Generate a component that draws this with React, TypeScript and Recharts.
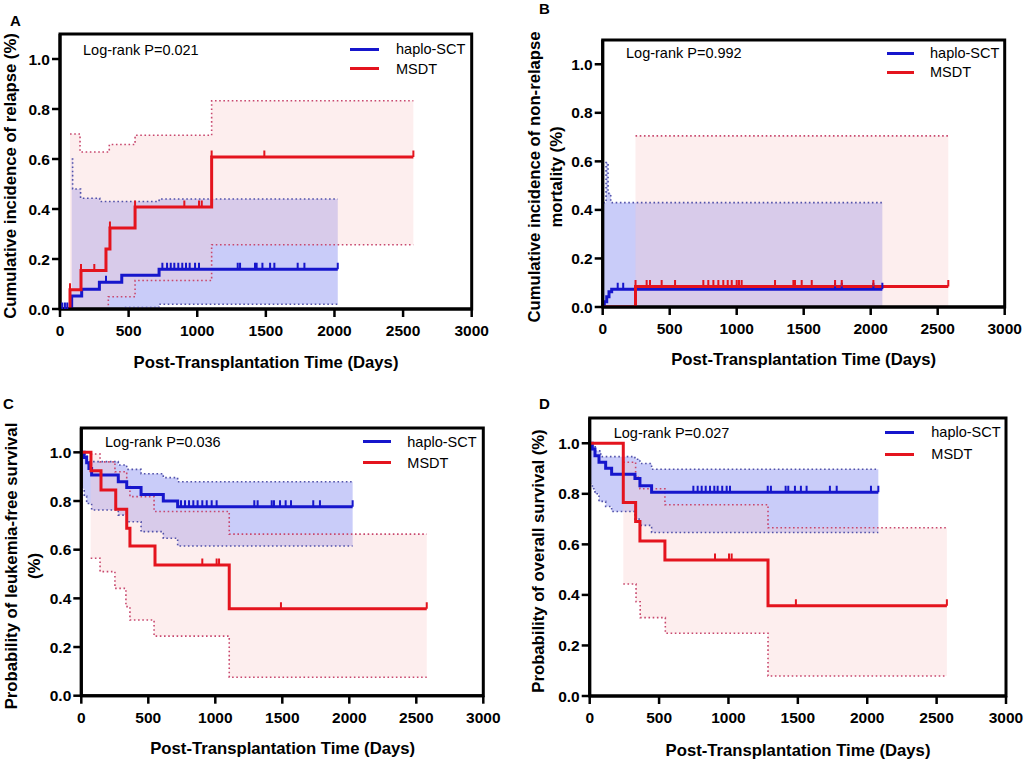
import React from 'react';
import { ComposedChart, Line, Area, XAxis, YAxis, ReferenceArea } from 'recharts';

type P = [number, number];

// ---------- shared labels / ticks ----------
const X_TICKS = [0, 500, 1000, 1500, 2000, 2500, 3000];
const Y_TICKS = [0, 0.2, 0.4, 0.6, 0.8, 1.0];
const SERIES_NAMES = ['haplo-SCT', 'MSDT'];
const PANEL_LETTERS = ['A', 'B', 'C', 'D'];
const LOG_RANK = ['Log-rank P=0.021', 'Log-rank P=0.992', 'Log-rank P=0.036', 'Log-rank P=0.027'];
const X_TITLE = 'Post-Transplantation Time (Days)';
const Y_TITLES = [
  ['Cumulative incidence of relapse (%)'],
  ['Cumulative incidence of non-relapse', 'mortality (%)'],
  ['Probability of leukemia-free survival', '(%)'],
  ['Probability of overall survival (%)'],
];

// ---------- Panel A: relapse ----------
const A_HAPLO_CURVE: P[] = [[0, 0], [85, 0.052], [158, 0.079], [287, 0.107], [450, 0.135], [722, 0.159], [2024, 0.159]];
const A_HAPLO_UPPER: P[] = [[85, 0.6], [92, 0.48], [150, 0.443], [290, 0.43], [722, 0.44], [2024, 0.44]];
const A_HAPLO_LOWER: P[] = [[85, 0], [461, 0.006], [722, 0.019], [2024, 0.019]];
const A_HAPLO_CENSOR = [17, 36, 53, 335, 746, 780, 807, 833, 862, 891, 918, 945, 984, 1013, 1295, 1312, 1421, 1433, 1475, 1531, 1562, 1732, 1781, 2024];
const A_MSDT_CURVE: P[] = [[0, 0], [73, 0.077], [153, 0.154], [335, 0.24], [364, 0.324], [547, 0.408], [1105, 0.608], [2575, 0.608]];
const A_MSDT_UPPER: P[] = [[73, 0.7], [146, 0.628], [359, 0.658], [547, 0.695], [1105, 0.833], [2575, 0.833]];
const A_MSDT_LOWER: P[] = [[73, 0], [352, 0.049], [547, 0.114], [1105, 0.257], [2575, 0.257]];
const A_MSDT_CENSOR = [73, 153, 250, 364, 547, 906, 1013, 1033, 1105, 1489, 2575];

// ---------- Panel B: non-relapse mortality ----------
const B_HAPLO_CURVE: P[] = [[0, 0], [12, 0.022], [30, 0.042], [47, 0.063], [67, 0.073], [2087, 0.073]];
const B_HAPLO_UPPER: P[] = [[5, 0.43], [25, 0.595], [40, 0.468], [60, 0.43], [2087, 0.43]];
const B_HAPLO_LOWER: P[] = [[5, 0], [2087, 0]];
const B_HAPLO_CENSOR = [112, 153, 1734, 1784, 2020, 2087];
const B_MSDT_CURVE: P[] = [[0, 0], [245, 0.084], [2579, 0.084]];
const B_MSDT_UPPER: P[] = [[245, 0.705], [2579, 0.705]];
const B_MSDT_LOWER: P[] = [[245, 0], [2579, 0]];
const B_MSDT_CENSOR = [245, 328, 353, 440, 540, 751, 788, 826, 863, 900, 933, 963, 1000, 1017, 1037, 1286, 1423, 1435, 1485, 1560, 1734, 1784, 2020, 2579];

// ---------- Panel C: leukemia-free survival ----------
const C_HAPLO_CURVE: P[] = [[0, 1], [22, 0.979], [40, 0.957], [57, 0.934], [77, 0.907], [276, 0.879], [339, 0.855], [446, 0.827], [612, 0.8], [719, 0.776], [2025, 0.776]];
const C_HAPLO_UPPER: P[] = [[0, 1.0], [22, 0.985], [45, 0.962], [276, 0.948], [339, 0.93], [446, 0.912], [612, 0.896], [719, 0.879], [2025, 0.879]];
const C_HAPLO_LOWER: P[] = [[0, 0.85], [22, 0.82], [40, 0.79], [77, 0.763], [276, 0.742], [339, 0.715], [446, 0.674], [612, 0.647], [719, 0.615], [2025, 0.615]];
const C_HAPLO_CENSOR = [744, 774, 804, 836, 868, 903, 936, 973, 1010, 1291, 1316, 1421, 1438, 1483, 1525, 1565, 1731, 1781, 2025];
const C_MSDT_CURVE: P[] = [[0, 1], [72, 0.924], [147, 0.845], [257, 0.766], [339, 0.688], [363, 0.615], [550, 0.537], [1104, 0.357], [2578, 0.357]];
const C_MSDT_UPPER: P[] = [[70, 0.993], [140, 0.961], [251, 0.92], [339, 0.859], [363, 0.818], [543, 0.757], [1104, 0.664], [2578, 0.664]];
const C_MSDT_LOWER: P[] = [[70, 0.565], [140, 0.51], [251, 0.441], [333, 0.366], [363, 0.311], [543, 0.245], [1104, 0.076], [2578, 0.076]];
const C_MSDT_CENSOR = [903, 1010, 1028, 1490, 2578];

// ---------- Panel D: overall survival ----------
const D_HAPLO_CURVE: P[] = [[0, 1], [19, 0.977], [38, 0.951], [67, 0.925], [115, 0.901], [158, 0.877], [326, 0.861], [362, 0.832], [446, 0.806], [2080, 0.806]];
const D_HAPLO_UPPER: P[] = [[0, 1.0], [19, 0.99], [40, 0.97], [80, 0.947], [326, 0.937], [362, 0.92], [446, 0.897], [2080, 0.897]];
const D_HAPLO_LOWER: P[] = [[0, 0.84], [19, 0.82], [38, 0.8], [67, 0.77], [115, 0.75], [158, 0.73], [326, 0.7], [362, 0.675], [446, 0.647], [2080, 0.647]];
const D_HAPLO_CENSOR = [747, 778, 807, 836, 867, 898, 922, 955, 987, 1011, 1283, 1306, 1412, 1431, 1479, 1522, 1563, 1731, 1780, 2027, 2080];
const D_MSDT_CURVE: P[] = [[0, 1], [242, 0.766], [331, 0.69], [362, 0.613], [542, 0.538], [1285, 0.357], [2574, 0.357]];
const D_MSDT_UPPER: P[] = [[242, 0.925], [331, 0.865], [362, 0.82], [542, 0.757], [1285, 0.666], [2574, 0.666]];
const D_MSDT_LOWER: P[] = [[242, 0.443], [334, 0.373], [364, 0.31], [545, 0.248], [1285, 0.079], [2574, 0.079]];
const D_MSDT_CENSOR = [903, 1004, 1023, 1486, 2574];

// ---------- styling ----------
const FONT = '"Liberation Sans", Arial, Helvetica, sans-serif';
const BLUE = '#1616cc';
const RED = '#e4141e';
const BLUE_DOT = '#5252aa';
const RED_DOT = '#c8486e';
const BLUE_FILL = '#c9ccf9';
const RED_FILL = '#f9caca';

type Layout = {
  box: { left: number; top: number; width: number; height: number };
  plot: { left: number; right: number; top: number; bottom: number };
  letter: [number, number];
  logrank: [number, number];
  legend: { x1: number; x2: number; y1: number; y2: number; tx: number };
  ytitle: { xs: number[]; cy: number };
  xtitle: [number, number];
};

const LAYOUTS: Layout[] = [
  {
    box: { left: 0, top: 0, width: 512, height: 380 },
    plot: { left: 60, right: 471.7, top: 34, bottom: 309 },
    letter: [10, 19.5],
    logrank: [83, 50],
    legend: { x1: 350, x2: 379, y1: 49.3, y2: 68.8, tx: 396 },
    ytitle: { xs: [11], cy: 176 },
    xtitle: [266, 363],
  },
  {
    box: { left: 512, top: 0, width: 513, height: 380 },
    plot: { left: 602.7, right: 1004.7, top: 40, bottom: 307 },
    letter: [539, 8],
    logrank: [626, 53.3],
    legend: { x1: 887, x2: 914, y1: 53.3, y2: 72.3, tx: 930 },
    ytitle: { xs: [535, 557], cy: 176.5 },
    xtitle: [803.7, 360],
  },
  {
    box: { left: 0, top: 380, width: 512, height: 383 },
    plot: { left: 81.3, right: 483.3, top: 428, bottom: 695.7 },
    letter: [3, 402.5],
    logrank: [105, 442.3],
    legend: { x1: 362.7, x2: 390.7, y1: 441.7, y2: 462.7, tx: 407.3 },
    ytitle: { xs: [12, 35], cy: 565.5 },
    xtitle: [282.7, 749],
  },
  {
    box: { left: 512, top: 380, width: 513, height: 383 },
    plot: { left: 589.7, right: 1006, top: 418, bottom: 696 },
    letter: [539, 402.5],
    logrank: [613.7, 433.3],
    legend: { x1: 885.3, x2: 913.7, y1: 432.3, y2: 454, tx: 931.3 },
    ytitle: { xs: [539], cy: 561 },
    xtitle: [798, 751],
  },
];

type Group = { curve: P[]; upper: P[]; lower: P[]; censor: number[] };
const PANEL_DATA: { haplo: Group; msdt: Group }[] = [
  {
    haplo: { curve: A_HAPLO_CURVE, upper: A_HAPLO_UPPER, lower: A_HAPLO_LOWER, censor: A_HAPLO_CENSOR },
    msdt: { curve: A_MSDT_CURVE, upper: A_MSDT_UPPER, lower: A_MSDT_LOWER, censor: A_MSDT_CENSOR },
  },
  {
    haplo: { curve: B_HAPLO_CURVE, upper: B_HAPLO_UPPER, lower: B_HAPLO_LOWER, censor: B_HAPLO_CENSOR },
    msdt: { curve: B_MSDT_CURVE, upper: B_MSDT_UPPER, lower: B_MSDT_LOWER, censor: B_MSDT_CENSOR },
  },
  {
    haplo: { curve: C_HAPLO_CURVE, upper: C_HAPLO_UPPER, lower: C_HAPLO_LOWER, censor: C_HAPLO_CENSOR },
    msdt: { curve: C_MSDT_CURVE, upper: C_MSDT_UPPER, lower: C_MSDT_LOWER, censor: C_MSDT_CENSOR },
  },
  {
    haplo: { curve: D_HAPLO_CURVE, upper: D_HAPLO_UPPER, lower: D_HAPLO_LOWER, censor: D_HAPLO_CENSOR },
    msdt: { curve: D_MSDT_CURVE, upper: D_MSDT_UPPER, lower: D_MSDT_LOWER, censor: D_MSDT_CENSOR },
  },
];

// ---------- helpers ----------
function stepAt(points: P[], t: number): number {
  let v = points[0][1];
  for (const [pt, pv] of points) if (pt <= t) v = pv;
  return v;
}
const toRows = (points: P[]) => points.map(([t, v]) => ({ t, v }));
function makeBand(upper: P[], lower: P[]) {
  const start = upper[0][0];
  const end = upper[upper.length - 1][0];
  const ts = Array.from(new Set([...upper.map((p) => p[0]), ...lower.map((p) => p[0])]))
    .filter((t) => t >= start && t <= end)
    .sort((a, b) => a - b);
  return ts.map((t) => ({ t, band: [stepAt(lower, t), stepAt(upper, t)] }));
}
const censorRows = (curve: P[], times: number[]) => times.map((t) => ({ t, v: stepAt(curve, t) }));

const censorDot = (color: string) => (props: any) => {
  const { cx, cy, index } = props;
  if (cx == null || cy == null) return <g key={`c${index}`} />;
  return <line key={`c${index}`} x1={cx} x2={cx} y1={cy} y2={cy - 6.5} stroke={color} strokeWidth={2} />;
};

const XTick = (props: any) => {
  const { x, y, payload } = props;
  return (
    <text x={x} y={y} dy="0.72em" textAnchor="middle" fontSize={15.5} fontWeight={700} fontFamily={FONT} fill="#000">
      {payload.value}
    </text>
  );
};
const YTick = (props: any) => {
  const { x, y, payload } = props;
  return (
    <text x={x} y={y} dy="0.36em" textAnchor="end" fontSize={15.5} fontWeight={700} fontFamily={FONT} fill="#000">
      {Number(payload.value).toFixed(1)}
    </text>
  );
};

const Txt = ({ x, y, size, bold, center, children }: any) => (
  <div
    style={{
      position: 'absolute',
      left: x,
      top: y,
      transform: `translate(${center ? '-50%' : '0'}, -50%)`,
      fontSize: size,
      fontWeight: bold ? 'bold' : 'normal',
      lineHeight: 1,
      whiteSpace: 'nowrap',
      color: '#000',
    }}
  >
    {children}
  </div>
);

const Panel = ({ idx }: { idx: number }) => {
  const L = LAYOUTS[idx];
  const D = PANEL_DATA[idx];
  const { box, plot } = L;
  const margin = { top: plot.top - box.top, right: box.left + box.width - plot.right, left: 0, bottom: 0 };
  const yW = plot.left - box.left;
  const xH = box.top + box.height - plot.bottom;
  return (
    <div style={{ position: 'absolute', left: box.left, top: box.top, width: box.width, height: box.height }}>
      <ComposedChart width={box.width} height={box.height} margin={margin}>
        <XAxis
          type="number"
          dataKey="t"
          domain={[0, 3000]}
          ticks={X_TICKS}
          allowDataOverflow
          height={xH}
          tick={<XTick />}
          tickSize={8}
          tickMargin={8}
          axisLine={{ stroke: '#000', strokeWidth: 3 }}
          tickLine={{ stroke: '#000', strokeWidth: 2.5 }}
          interval={0}
        />
        <YAxis
          type="number"
          domain={[0, 1.1]}
          ticks={Y_TICKS}
          allowDataOverflow
          width={yW}
          tick={<YTick />}
          tickSize={8}
          tickMargin={2}
          axisLine={{ stroke: '#000', strokeWidth: 3 }}
          tickLine={{ stroke: '#000', strokeWidth: 2.5 }}
          interval={0}
        />
        <Area
          data={makeBand(D.haplo.upper, D.haplo.lower)}
          dataKey="band"
          type="stepAfter"
          stroke="none"
          fill={BLUE_FILL}
          fillOpacity={1}
          isAnimationActive={false}
        />
        <Area
          data={makeBand(D.msdt.upper, D.msdt.lower)}
          dataKey="band"
          type="stepAfter"
          stroke="none"
          fill={RED_FILL}
          fillOpacity={0.32}
          isAnimationActive={false}
        />
        <Line data={toRows(D.haplo.upper)} dataKey="v" type="stepAfter" stroke={BLUE_DOT} strokeWidth={1.6} strokeDasharray="1.6 2.6" dot={false} isAnimationActive={false} />
        <Line data={toRows(D.haplo.lower)} dataKey="v" type="stepAfter" stroke={BLUE_DOT} strokeWidth={1.6} strokeDasharray="1.6 2.6" dot={false} isAnimationActive={false} />
        <Line data={toRows(D.msdt.upper)} dataKey="v" type="stepAfter" stroke={RED_DOT} strokeWidth={1.6} strokeDasharray="1.6 2.6" dot={false} isAnimationActive={false} />
        <Line data={toRows(D.msdt.lower)} dataKey="v" type="stepAfter" stroke={RED_DOT} strokeWidth={1.6} strokeDasharray="1.6 2.6" dot={false} isAnimationActive={false} />
        <Line data={toRows(D.haplo.curve)} dataKey="v" type="stepAfter" stroke={BLUE} strokeWidth={3} dot={false} isAnimationActive={false} />
        <Line data={toRows(D.msdt.curve)} dataKey="v" type="stepAfter" stroke={RED} strokeWidth={3} dot={false} isAnimationActive={false} />
        <Line data={censorRows(D.haplo.curve, D.haplo.censor)} dataKey="v" type="linear" stroke="none" dot={censorDot(BLUE)} isAnimationActive={false} />
        <Line data={censorRows(D.msdt.curve, D.msdt.censor)} dataKey="v" type="linear" stroke="none" dot={censorDot(RED)} isAnimationActive={false} />
        <ReferenceArea x1={0} x2={3000} y1={0} y2={1.1} fill="none" fillOpacity={0} stroke="#000" strokeWidth={3} ifOverflow="visible" />
      </ComposedChart>
    </div>
  );
};

const Overlay = ({ idx }: { idx: number }) => {
  const L = LAYOUTS[idx];
  const lg = L.legend;
  return (
    <>
      <Txt x={L.letter[0]} y={L.letter[1]} size={15} bold>
        {PANEL_LETTERS[idx]}
      </Txt>
      <Txt x={L.logrank[0]} y={L.logrank[1]} size={14.5}>
        {LOG_RANK[idx]}
      </Txt>
      <div style={{ position: 'absolute', left: lg.x1, top: lg.y1 - 1.5, width: lg.x2 - lg.x1, height: 3, background: BLUE }} />
      <div style={{ position: 'absolute', left: lg.x1, top: lg.y2 - 1.5, width: lg.x2 - lg.x1, height: 3, background: RED }} />
      <Txt x={lg.tx} y={lg.y1} size={14.5}>
        {SERIES_NAMES[0]}
      </Txt>
      <Txt x={lg.tx} y={lg.y2} size={14.5}>
        {SERIES_NAMES[1]}
      </Txt>
      {Y_TITLES[idx].map((line, i) => (
        <div
          key={i}
          style={{
            position: 'absolute',
            left: L.ytitle.xs[i],
            top: L.ytitle.cy,
            transform: 'translate(-50%, -50%) rotate(-90deg)',
            fontSize: 16.7,
            fontWeight: 'bold',
            lineHeight: 1,
            whiteSpace: 'nowrap',
          }}
        >
          {line}
        </div>
      ))}
      <Txt x={L.xtitle[0]} y={L.xtitle[1]} size={16.7} bold center>
        {X_TITLE}
      </Txt>
    </>
  );
};

export default function App() {
  return (
    <div
      style={{
        position: 'absolute',
        left: 0,
        top: 0,
        width: 1025,
        height: 763,
        background: '#fff',
        fontFamily: FONT,
        overflow: 'hidden',
      }}
    >
      {[0, 1, 2, 3].map((i) => (
        <Panel key={`p${i}`} idx={i} />
      ))}
      {[0, 1, 2, 3].map((i) => (
        <Overlay key={`o${i}`} idx={i} />
      ))}
    </div>
  );
}
